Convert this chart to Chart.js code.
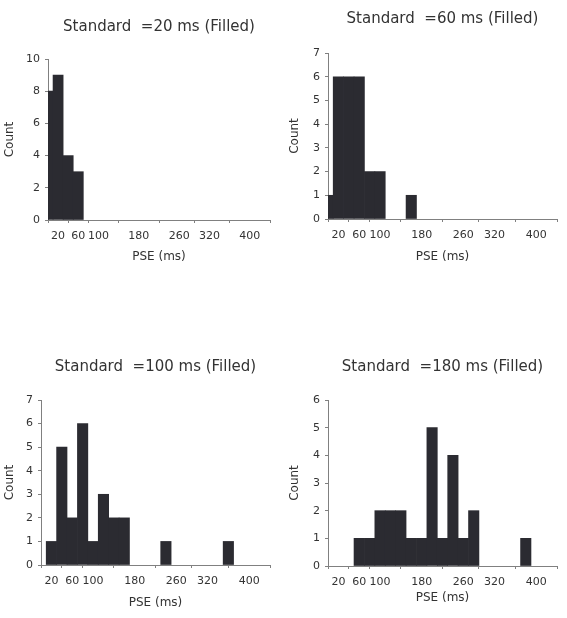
<!DOCTYPE html>
<html>
<head>
<meta charset="utf-8">
<script src="https://cdn.jsdelivr.net/npm/chart.js@4/dist/chart.umd.min.js"></script>
<style>
  body { margin: 0; background: #fff; }
  .panel { position: absolute; }
</style>
</head>
<body>
<div class="panel" style="left:0px;top:0px"><canvas id="c1" width="280" height="270"></canvas></div>
<div class="panel" style="left:280px;top:0px"><canvas id="c2" width="287" height="270"></canvas></div>
<div class="panel" style="left:0px;top:330px"><canvas id="c3" width="280" height="288"></canvas></div>
<div class="panel" style="left:280px;top:330px"><canvas id="c4" width="287" height="288"></canvas></div>
<script>
// bin centres (ms), 20 ms wide bins
const binCenters = [0, 20, 40, 60, 80, 100, 120, 140, 160, 180, 200, 220, 240, 260, 280, 300, 320, 340, 360, 380, 400, 420];
const xTicks = [20, 60, 100, 180, 260, 320, 400];

const counts20 = [8, 9, 4, 3, 0, 0, 0, 0, 0, 0, 0, 0, 0, 0, 0, 0, 0, 0, 0, 0, 0, 0];
const counts60 = [1, 6, 6, 6, 2, 2, 0, 0, 1, 0, 0, 0, 0, 0, 0, 0, 0, 0, 0, 0, 0, 0];
const counts100 = [0, 1, 5, 2, 6, 1, 3, 2, 2, 0, 0, 0, 1, 0, 0, 0, 0, 0, 1, 0, 0, 0];
const counts180 = [0, 0, 0, 1, 1, 2, 2, 2, 1, 1, 5, 1, 4, 1, 2, 0, 0, 0, 0, 1, 0, 0];

const titles = ["Standard  =20 ms (Filled)", "Standard  =60 ms (Filled)", "Standard  =100 ms (Filled)", "Standard  =180 ms (Filled)"];

Chart.defaults.font.family = "'DejaVu Sans', sans-serif";
Chart.defaults.color = "#333";

const axisGrey = "#808080";
const barColor = "#2b2b31";

function makeHist(id, title, counts, yMax, yStep, g) {
    let ctx = document.getElementById(id).getContext("2d");
    // empty bins are left out so nothing is drawn on the baseline
    let pts = binCenters.map((x, i) => ({ x: x, y: counts[i] })).filter(p => p.y > 0);
    new Chart(ctx, {
        type: "bar",
        data: {
            datasets: [{
                data: pts,
                backgroundColor: barColor,
                borderWidth: 0,
                barPercentage: 1,
                categoryPercentage: 1
            }]
        },
        options: {
            responsive: false,
            animation: false,
            layout: { padding: { left: 0, right: g.padRight, top: 0, bottom: 0 } },
            plugins: {
                legend: { display: false },
                tooltip: { enabled: false },
                title: {
                    display: true,
                    text: title,
                    fullSize: false,
                    color: "#333",
                    font: { size: 15, weight: "normal" },
                    padding: { top: g.titleTop, bottom: g.titleBottom }
                }
            },
            scales: {
                x: {
                    type: "linear",
                    min: 0,
                    max: 440,
                    offset: false,
                    afterBuildTicks: s => { s.ticks = xTicks.map(v => ({ value: v })); },
                    afterFit: s => { s.height = g.xH; },
                    grid: { drawOnChartArea: false, color: axisGrey, tickLength: 3 },
                    border: { color: axisGrey, width: 1 },
                    ticks: { autoSkip: false, maxRotation: 0, minRotation: 0, padding: 7, font: { size: 11 }, color: "#333" },
                    title: { display: true, text: "PSE (ms)", font: { size: 12 }, color: "#333", padding: { top: 2, bottom: g.xTitlePad } }
                },
                y: {
                    min: 0,
                    max: yMax,
                    afterFit: s => { s.width = g.yW; },
                    grid: { drawOnChartArea: false, color: axisGrey, tickLength: 3 },
                    border: { color: axisGrey, width: 1 },
                    ticks: { stepSize: yStep, padding: 5, font: { size: 11 }, color: "#333" },
                    title: { display: true, text: "Count", font: { size: 12 }, color: "#333", padding: { top: g.yTitlePad, bottom: 0 } }
                }
            }
        }
    });
}

makeHist("c1", titles[0], counts20, 10, 2, { padRight: 10, titleTop: 18, titleBottom: 23, yW: 48, xH: 50, yTitlePad: 3, xTitlePad: 6 });
makeHist("c2", titles[1], counts60, 7, 1, { padRight: 10, titleTop: 10, titleBottom: 25, yW: 48, xH: 51, yTitlePad: 8, xTitlePad: 6 });
makeHist("c3", titles[2], counts100, 7, 1, { padRight: 10, titleTop: 28, titleBottom: 24, yW: 41, xH: 53, yTitlePad: 3, xTitlePad: 8 });
makeHist("c4", titles[3], counts180, 6, 1, { padRight: 10, titleTop: 28, titleBottom: 24, yW: 48, xH: 52, yTitlePad: 8, xTitlePad: 13 });
</script>
</body>
</html>
